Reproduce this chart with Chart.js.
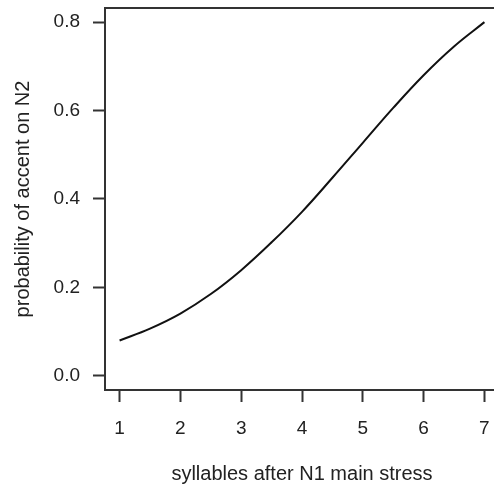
<!DOCTYPE html>
<html>
<head>
<meta charset="utf-8">
<script src="https://cdn.jsdelivr.net/npm/chart.js@4"></script>
<style>
  html, body { margin:0; padding:0; background:#fff; overflow:hidden; }
  #wrap { width:494px; height:488px; overflow:hidden; }
</style>
</head>
<body>
<div id="wrap"><canvas id="chart" width="510" height="488"></canvas></div>
<script>
// values
const syllables = [1, 1.5, 2, 2.5, 3, 3.5, 4, 4.5, 5, 5.5, 6, 6.5, 7];
const probAccent = [0.08, 0.107, 0.141, 0.185, 0.239, 0.302, 0.371, 0.448, 0.527, 0.606, 0.68, 0.745, 0.80];
const xTicks = [1, 2, 3, 4, 5, 6, 7];
const yTicks = [0, 0.2, 0.4, 0.6, 0.8];

const ink = '#333';
const family = 'Liberation Sans, Arial, sans-serif';
const tickFont = { family, size: 19 };
const titleFont = { family, size: 20 };

const boxPlugin = {
  id: 'box',
  afterDraw(c) {
    const a = c.chartArea, ctx = c.ctx;
    ctx.save();
    ctx.strokeStyle = ink;
    ctx.lineWidth = 2;
    ctx.strokeRect(a.left, a.top, a.right - a.left, a.bottom - a.top);
    ctx.restore();
  }
};

new Chart(document.getElementById('chart').getContext('2d'), {
  type: 'line',
  data: {
    datasets: [{
      data: syllables.map((s, i) => ({ x: s, y: probAccent[i] })),
      borderColor: '#111',
      borderWidth: 2,
      pointRadius: 0,
      tension: 0.4,
      fill: false
    }]
  },
  options: {
    responsive: false,
    animation: false,
    layout: { padding: { top: 0, right: 11, left: 0, bottom: 0 } },
    plugins: { legend: { display: false }, tooltip: { enabled: false } },
    scales: {
      x: {
        type: 'linear',
        min: 0.76, max: 7.24,
        afterBuildTicks: s => { s.ticks = xTicks.map(v => ({ value: v })); },
        afterFit: s => { s.height = 98; s.paddingLeft = 0; s.paddingRight = 0; },
        grid: { drawOnChartArea: false, tickLength: 12, tickWidth: 2, tickColor: ink },
        border: { display: true, color: ink, width: 2 },
        ticks: { color: '#222', font: tickFont, padding: 15, maxRotation: 0, callback: v => String(v) },
        title: { display: true, text: 'syllables after N1 main stress', color: '#222', font: titleFont, padding: { top: 0, bottom: 2 } }
      },
      y: {
        min: -0.032, max: 0.832,
        afterBuildTicks: s => { s.ticks = yTicks.map(v => ({ value: v })); },
        afterFit: s => { s.width = 105; s.paddingTop = 8; s.paddingBottom = 0; },
        grid: { drawOnChartArea: false, tickLength: 12, tickWidth: 2, tickColor: ink },
        border: { display: true, color: ink, width: 2 },
        ticks: { color: '#222', font: tickFont, padding: 13, callback: v => v.toFixed(1) },
        title: { display: true, text: 'probability of accent on N2', color: '#222', font: titleFont, padding: { top: 11, bottom: 0 } }
      }
    }
  },
  plugins: [boxPlugin]
});
</script>
</body>
</html>
